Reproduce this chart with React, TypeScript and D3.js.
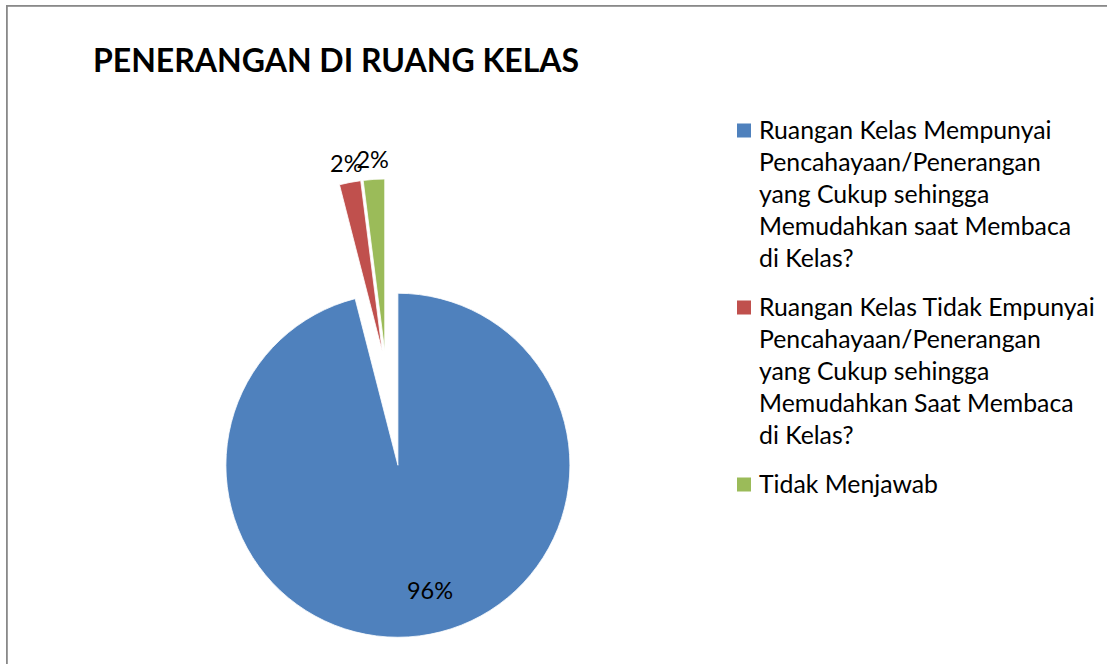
import React from 'react';
import * as d3 from 'd3';

const title = 'PENERANGAN DI RUANG KELAS';
const categories = [
  'Ruangan Kelas Mempunyai Pencahayaan/Penerangan yang Cukup sehingga Memudahkan saat Membaca di Kelas?',
  'Ruangan Kelas Tidak Empunyai Pencahayaan/Penerangan yang Cukup sehingga Memudahkan Saat Membaca di Kelas?',
  'Tidak Menjawab',
];
const values = [96, 2, 2];
const percentLabels = ['96%', '2%', '2%'];
const legendLines = [
  ['Ruangan Kelas Mempunyai', 'Pencahayaan/Penerangan', 'yang Cukup sehingga', 'Memudahkan saat Membaca', 'di Kelas?'],
  ['Ruangan Kelas Tidak Empunyai', 'Pencahayaan/Penerangan', 'yang Cukup sehingga', 'Memudahkan Saat Membaca', 'di Kelas?'],
  ['Tidak Menjawab'],
];
const colors = ['#4F81BD', '#C0504D', '#9BBB59'];

const FONT = 'Lato, "Open Sans", sans-serif';

export default function App() {
  const W = 1107;
  const H = 664;
  const cx = 386;
  const cy = 371;
  const r = 172;
  const explode = [95, 20, 20];
  const labelRadius = [129, 192, 192];
  const labelShift = [-0.126, 0, 0];

  const pie = d3.pie<number>().sort(null).value((d) => d);
  const arcs = pie(values);
  const arcGen = d3.arc<d3.PieArcDatum<number>>().innerRadius(0).outerRadius(r);

  const legendX = 737;
  const lineH = 32;
  const entryGap = 17;
  let yCursor = 138.5;
  const legendItems = legendLines.map((lines, i) => {
    const y0 = yCursor;
    yCursor += lines.length * lineH + entryGap;
    return { lines, y0, i };
  });

  return (
    <svg
      width={W}
      height={H}
      style={{ position: 'absolute', left: 0, top: 0, background: '#fff' }}
      fontFamily={FONT}
    >
      <rect x={0} y={0} width={W} height={H} fill="#fff" />
      <rect x={6.9} y={5.9} width={1200} height={800} fill="none" stroke="#898989" strokeWidth={1.8} />
      <text x={93} y={71.5} fontSize={32} fontWeight={700} fill="#000">
        {title}
      </text>
      <g>
        {arcs.map((a, i) => {
          const mid = (a.startAngle + a.endAngle) / 2;
          const tx = cx + explode[i] * Math.sin(mid);
          const ty = cy - explode[i] * Math.cos(mid);
          return (
            <g key={i} transform={`translate(${tx},${ty})`}>
              <path d={arcGen(a) || ''} fill={colors[i]} stroke="#fff" strokeWidth={0.8}>
                <title>{categories[i]}</title>
              </path>
            </g>
          );
        })}
        {arcs.map((a, i) => {
          const mid = (a.startAngle + a.endAngle) / 2;
          const vx = cx + explode[i] * Math.sin(mid);
          const vy = cy - explode[i] * Math.cos(mid);
          const la = mid + labelShift[i];
          const lx = vx + labelRadius[i] * Math.sin(la);
          const ly = vy - labelRadius[i] * Math.cos(la);
          return (
            <text key={'l' + i} x={lx} y={ly} textAnchor="middle" dominantBaseline="central" fontSize={23.5} fill="#000">
              {percentLabels[i]}
            </text>
          );
        })}
      </g>
      <g>
        {legendItems.map(({ lines, y0, i }) => (
          <g key={i}>
            <rect x={legendX} y={y0 - 15} width={14} height={14} fill={colors[i]} />
            {lines.map((ln, j) => (
              <text key={j} x={759} y={y0 + j * lineH} fontSize={24.8} fill="#000">
                {ln}
              </text>
            ))}
          </g>
        ))}
      </g>
    </svg>
  );
}
